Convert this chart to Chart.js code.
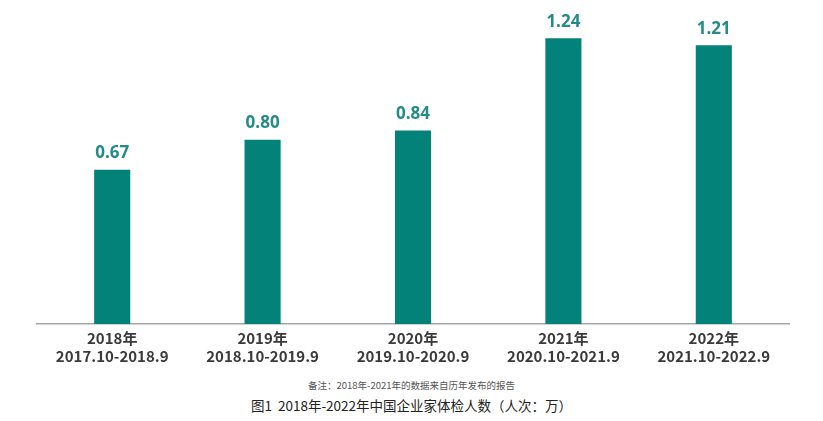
<!DOCTYPE html>
<html>
<head>
<meta charset="utf-8">
<script src="https://cdn.jsdelivr.net/npm/chart.js@4.4.0/dist/chart.umd.min.js"></script>
<style>
    body { margin: 0; background: #fff; width: 823px; height: 421px; overflow: hidden; }
    #wrap { position: relative; width: 823px; height: 362px; }
    .note { position: absolute; width: 823px; left: 0; text-align: center; font-family: "Noto Sans CJK SC", sans-serif; }
    #note1 { top: 378px; font-size: 9.5px; color: #555; }
    #note2 { top: 395px; font-size: 13.5px; color: #222; }
</style>
</head>
<body>
<div id="wrap"><canvas id="chart"></canvas></div>
<div class="note" id="note1">备注：2018年-2021年的数据来自历年发布的报告</div>
<div class="note" id="note2">图1&nbsp; 2018年-2022年中国企业家体检人数（人次：万）</div>
<script>
const years = ['2018年', '2019年', '2020年', '2021年', '2022年'];
const periods = ['2017.10-2018.9', '2018.10-2019.9', '2019.10-2020.9', '2020.10-2021.9', '2021.10-2022.9'];
const checkups = [0.67, 0.80, 0.84, 1.24, 1.21];

const barColor = '#03827a';
const labelColor = '#248b86';

// draws the value above each bar
const valueLabels = {
    id: 'valueLabels',
    afterDatasetsDraw(chart) {
        const ctx = chart.ctx;
        const meta = chart.getDatasetMeta(0);
        ctx.save();
        ctx.font = 'bold 17px "Open Sans", sans-serif';
        ctx.fillStyle = labelColor;
        ctx.textAlign = 'center';
        ctx.textBaseline = 'bottom';
        meta.data.forEach((bar, i) => {
            ctx.fillText(checkups[i].toFixed(2), bar.x, bar.y - 8);
        });
        ctx.restore();
    }
};

const labels = years.map((y, i) => [y, periods[i]]);

new Chart(document.getElementById('chart').getContext('2d'), {
    type: 'bar',
    data: {
        labels: labels,
        datasets: [{
            data: checkups,
            backgroundColor: barColor,
            barPercentage: 0.24,
            categoryPercentage: 1
        }]
    },
    options: {
        responsive: true,
        maintainAspectRatio: false,
        animation: false,
        layout: { padding: { left: 37, right: 34, top: 13, bottom: 0 } },
        plugins: { legend: { display: false }, tooltip: { enabled: false } },
        scales: {
            y: { display: false, min: 0, max: 1.35 },
            x: {
                grid: { display: false },
                border: { color: '#a6a6a6', width: 1.5 },
                ticks: {
                    color: '#3a3a3a',
                    padding: -3,
                    font: { family: '"Noto Sans CJK SC", sans-serif', size: 15, weight: 'bold', lineHeight: 1.2 }
                }
            }
        }
    },
    plugins: [valueLabels]
});
</script>
</body>
</html>
